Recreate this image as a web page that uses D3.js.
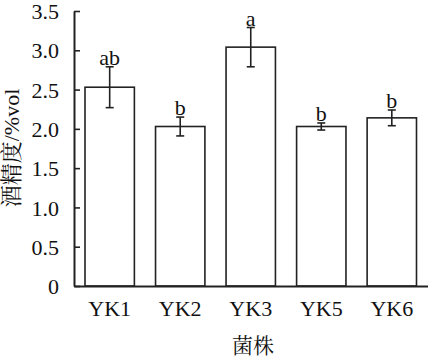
<!DOCTYPE html>
<html><head><meta charset="utf-8">
<script src="https://cdn.jsdelivr.net/npm/d3@7"></script>
<style>body{margin:0;background:#fff}svg{display:block}
svg text{font-family:"Liberation Serif","Times New Roman",serif;}
svg text.cjk{font-family:"Liberation Serif","Noto Serif CJK SC","Noto Sans CJK SC",serif;}
</style>
</head><body>
<script>
const categories = ["YK1","YK2","YK3","YK5","YK6"];
const values = [2.53, 2.03, 3.04, 2.03, 2.14];
const errors = [0.26, 0.12, 0.25, 0.045, 0.10];
const letters = ["ab","b","a","b","b"];
const yTicks = [0,0.5,1.0,1.5,2.0,2.5,3.0,3.5];
const yTickLabels = ["0","0.5","1.0","1.5","2.0","2.5","3.0","3.5"];

const W=428,H=358;
const svg = d3.select("body").append("svg").attr("width",W).attr("height",H);
const x0=74, x1=427.5, yB=286, yT=11;
const x = d3.scaleBand().domain(categories).range([x0,x1]).paddingInner(0.3).paddingOuter(0.156);
const y = d3.scaleLinear().domain([0,3.5]).range([yB,yT]);

// bars
svg.selectAll("rect.bar").data(categories).join("rect")
  .attr("x",d=>x(d)).attr("width",x.bandwidth())
  .attr("y",(d,i)=>y(values[i])).attr("height",(d,i)=>yB-y(values[i]))
  .attr("fill","#fff").attr("stroke","#222").attr("stroke-width",1.6);

// error bars
const eg = svg.append("g").attr("stroke","#222").attr("stroke-width",1.6);
categories.forEach((c,i)=>{
  const cx = x(c)+x.bandwidth()/2;
  const t=y(values[i]+errors[i]), b=y(values[i]-errors[i]);
  eg.append("line").attr("x1",cx).attr("x2",cx).attr("y1",t).attr("y2",b);
  eg.append("line").attr("x1",cx-4).attr("x2",cx+4).attr("y1",t).attr("y2",t);
  eg.append("line").attr("x1",cx-4).attr("x2",cx+4).attr("y1",b).attr("y2",b);
  svg.append("text").attr("x",cx).attr("y",t-2).attr("text-anchor","middle")
    .style("font-size","22px").attr("fill","#111").text(letters[i]);
});

// y axis
const ya = svg.append("g").attr("transform",`translate(${x0},0)`)
  .call(d3.axisRight(y).tickValues(yTicks).tickFormat((d,i)=>yTickLabels[i]).tickSize(6).tickSizeOuter(0));
ya.attr("font-family",null).attr("font-size",null);
ya.select(".domain").attr("stroke","#222").attr("stroke-width",2);
ya.selectAll(".tick line").attr("stroke","#222").attr("stroke-width",1.6);
ya.selectAll(".tick text").attr("x",-15).attr("text-anchor","end").attr("dy","0.35em")
  .style("font-size","22px").attr("fill","#111");

// x axis
const xa = svg.append("g").attr("transform",`translate(0,${yB})`)
  .call(d3.axisBottom(x).tickSize(0).tickSizeOuter(0));
xa.attr("font-family",null).attr("font-size",null);
xa.select(".domain").attr("stroke","#222").attr("stroke-width",2);
xa.selectAll(".tick text").attr("y",30).attr("dy",0)
  .style("font-size","22px").attr("fill","#111");

// titles
svg.append("text").attr("class","cjk").attr("x",253).attr("y",353).attr("text-anchor","middle")
  .style("font-size","21px").attr("fill","#111").text("菌株");
svg.append("text").attr("class","cjk").attr("transform","translate(19,148) rotate(-90)").attr("text-anchor","middle")
  .style("font-size","22px").attr("fill","#111").text("酒精度/%vol");
</script>
</body></html>
